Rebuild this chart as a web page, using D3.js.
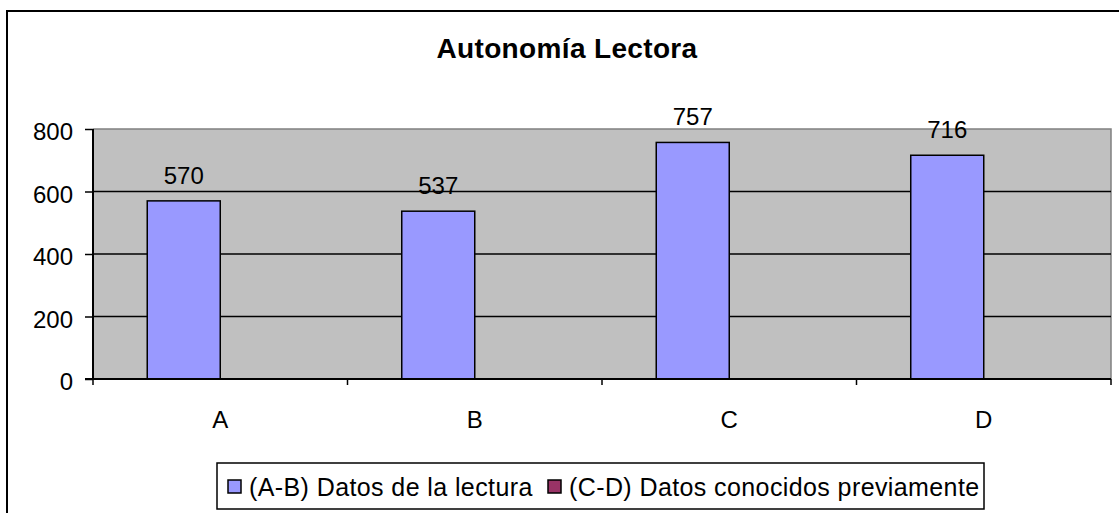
<!DOCTYPE html>
<html>
<head>
<meta charset="utf-8">
<script src="https://cdn.jsdelivr.net/npm/d3@7"></script>
<style>
body { margin: 0; background: #fff; }
svg { display: block; font-family: "Liberation Sans", Arial, sans-serif; }
</style>
</head>
<body>
<svg id="chart" width="1119" height="513"></svg>
<script>
var categories = ["A", "B", "C", "D"];
var seriesNames = ["(A-B) Datos de la lectura", "(C-D) Datos conocidos previamente"];
var seriesColors = ["#9999FF", "#993366"];
var lecturaValues = [570, 537, 757, 716];
var previosValues = [null, null, null, null];
var yTicks = [0, 200, 400, 600, 800];

var svg = d3.select("#chart");
var plot = {left: 93, right: 1111, top: 129, bottom: 379};

// outer frame of the chart
svg.append("rect").attr("x", 7).attr("y", 11).attr("width", 1140).attr("height", 540)
	.attr("fill", "#fff").attr("stroke", "#000").attr("stroke-width", 2);

svg.append("text").attr("x", 567).attr("y", 58).attr("text-anchor", "middle")
	.attr("font-size", 28).attr("font-weight", "bold").attr("letter-spacing", 0.35)
	.text("Autonomía Lectora");

var x0 = d3.scaleBand().domain(categories).range([plot.left, plot.right]).paddingInner(0).paddingOuter(0);
var x1 = d3.scaleBand().domain([0, 1]).range([0, x0.bandwidth()]).paddingInner(0).paddingOuter(0.743);
var y = d3.scaleLinear().domain([0, 800]).range([plot.bottom, plot.top]);

svg.append("rect").attr("x", plot.left).attr("y", plot.top)
	.attr("width", plot.right - plot.left).attr("height", plot.bottom - plot.top)
	.attr("fill", "#C0C0C0");
svg.append("path")
	.attr("d", "M" + plot.left + "," + plot.top + "H" + plot.right + "V" + plot.bottom)
	.attr("fill", "none").attr("stroke", "#808080").attr("stroke-width", 1.5);

// gridlines
svg.selectAll(".grid").data(yTicks.filter(function(t) { return t > 0 && t < 800; }))
	.enter().append("line")
	.attr("x1", plot.left).attr("x2", plot.right)
	.attr("y1", function(d) { return y(d); }).attr("y2", function(d) { return y(d); })
	.attr("stroke", "#000").attr("stroke-width", 1.5);

var series = [lecturaValues, previosValues];
series.forEach(function(vals, si) {
	svg.selectAll(".bar" + si).data(categories).enter()
		.filter(function(c, i) { return vals[i] != null; })
		.append("rect")
		.attr("x", function(c) { return x0(c) + x1(si); })
		.attr("y", function(c) { return y(vals[categories.indexOf(c)]); })
		.attr("width", x1.bandwidth())
		.attr("height", function(c) { return plot.bottom - y(vals[categories.indexOf(c)]); })
		.attr("fill", seriesColors[si]).attr("stroke", "#000").attr("stroke-width", 1.5);
	svg.selectAll(".lbl" + si).data(categories).enter()
		.filter(function(c, i) { return vals[i] != null; })
		.append("text")
		.attr("x", function(c) { return x0(c) + x1(si) + x1.bandwidth() / 2; })
		.attr("y", function(c) { return y(vals[categories.indexOf(c)]) - 17; })
		.attr("text-anchor", "middle").attr("font-size", 24)
		.text(function(c) { return vals[categories.indexOf(c)]; });
});

// y axis
var yAxis = d3.axisLeft(y).tickValues(yTicks).tickSize(8).tickPadding(12);
var gy = svg.append("g").attr("transform", "translate(" + plot.left + ",0)").call(yAxis);
gy.select(".domain").attr("stroke", "#000").attr("stroke-width", 2).attr("d", "M0," + plot.top + "V" + plot.bottom);
gy.selectAll(".tick line").attr("stroke", "#000").attr("stroke-width", 1.5);
gy.selectAll(".tick text").attr("font-size", 24).attr("fill", "#000").attr("dy", "0.45em")
	.attr("font-family", "Liberation Sans, Arial, sans-serif");

// x axis
svg.append("line").attr("x1", plot.left - 8).attr("x2", plot.right)
	.attr("y1", plot.bottom).attr("y2", plot.bottom).attr("stroke", "#000").attr("stroke-width", 2);
var bounds = categories.map(function(c) { return x0(c); }).concat([plot.right]);
svg.selectAll(".xtick").data(bounds).enter().append("line")
	.attr("x1", function(d) { return d; }).attr("x2", function(d) { return d; })
	.attr("y1", plot.bottom).attr("y2", plot.bottom + 6)
	.attr("stroke", "#000").attr("stroke-width", 1.5);
svg.selectAll(".xlbl").data(categories).enter().append("text")
	.attr("x", function(c) { return x0(c) + x0.bandwidth() / 2; })
	.attr("y", 428).attr("text-anchor", "middle").attr("font-size", 24)
	.text(function(c) { return c; });

// legend
var legend = svg.append("g");
legend.append("rect").attr("x", 217).attr("y", 463).attr("width", 767).attr("height", 46)
	.attr("fill", "#fff").attr("stroke", "#000").attr("stroke-width", 1.5);
var legendX = [228, 548];
seriesNames.forEach(function(name, i) {
	legend.append("rect").attr("x", legendX[i]).attr("y", 480).attr("width", 13).attr("height", 13)
		.attr("fill", seriesColors[i]).attr("stroke", "#000").attr("stroke-width", 1.5);
	legend.append("text").attr("x", legendX[i] + 21).attr("y", 496).attr("font-size", 25)
		.attr("letter-spacing", 0.4).text(name);
});
</script>
</body>
</html>
